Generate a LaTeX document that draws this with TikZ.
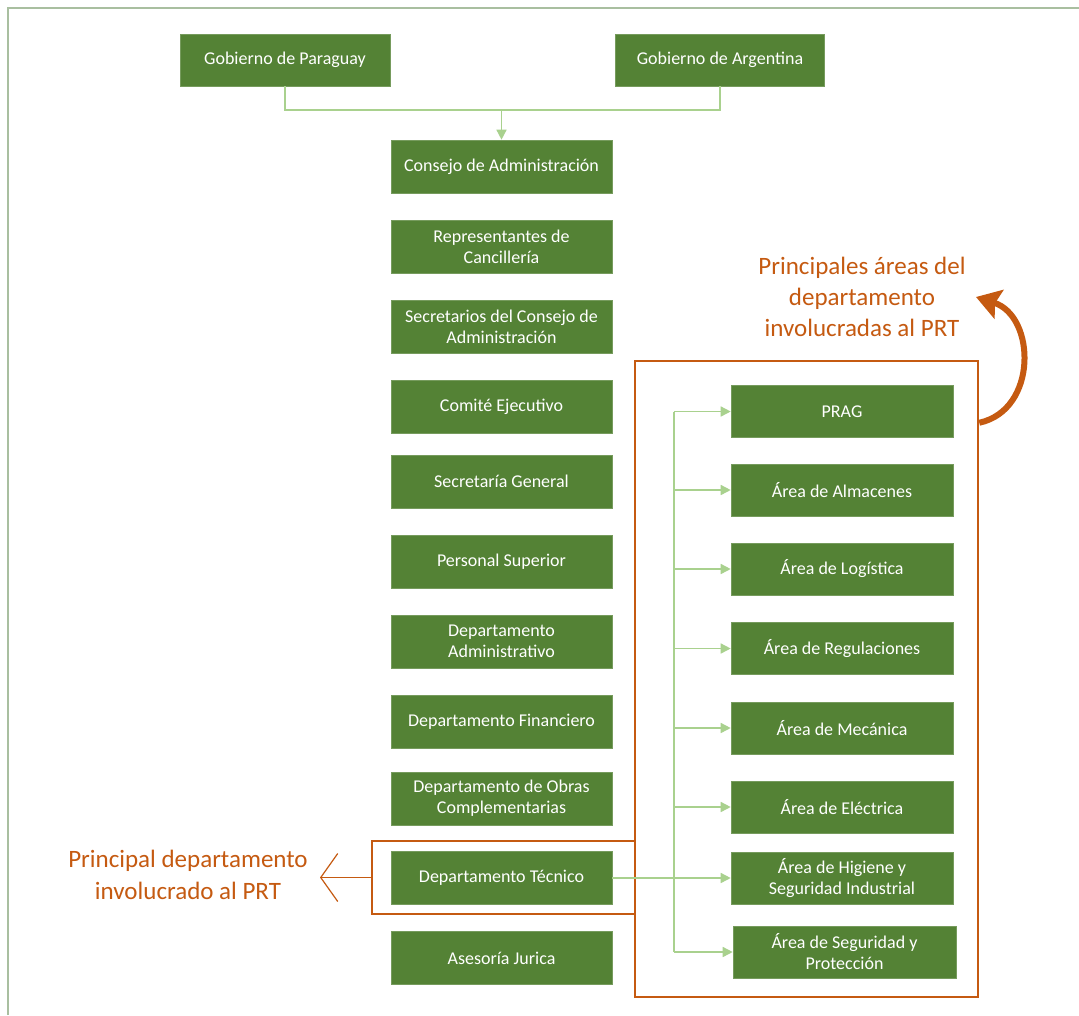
\documentclass[tikz,border=0pt]{standalone}
\usepackage{fontspec}
\setmainfont{Carlito}
\usetikzlibrary{arrows.meta}
\definecolor{boxgreen}{HTML}{548235}
\definecolor{lgreen}{HTML}{A9D18E}
\definecolor{frameg}{HTML}{A9BFA0}
\definecolor{orng}{HTML}{C55A11}
\tikzset{
  gbox/.style={fill=boxgreen, draw=boxgreen!80!white, line width=0.6pt, text=white, align=center,
    minimum width=221pt, minimum height=53pt, inner sep=2pt, font=\fontsize{18}{21}\selectfont},
  rgbox/.style={gbox, minimum width=222pt, minimum height=52pt},
  gline/.style={draw=lgreen, line width=1.5pt},
  conn/.style={gline, -{Triangle[length=10pt,width=10pt]}},
  obox/.style={draw=orng, line width=2.5pt, inner sep=0pt},
  otext/.style={text=orng, align=center, font=\fontsize{25}{31}\selectfont},
}
\begin{document}
\begin{tikzpicture}[x=1pt,y=-1pt]
\useasboundingbox (0,0) rectangle (1079,1015);
\fill[white] (0,0) rectangle (1079,1015);
% frame (top and left only)
\draw[frameg, line width=2pt] (8,1015) -- (8,7.5) -- (1079,7.5);

% orange frames
\node[obox, minimum width=343pt, minimum height=636pt] (rbox) at (806.5,679) {};
\node[obox, minimum width=263pt, minimum height=73pt] (brk) at (503.5,877.5) {};

% top boxes
\node[gbox, minimum width=210pt, minimum height=52pt] (par) at (285,60) {Gobierno de Paraguay};
\node[gbox, minimum width=209pt, minimum height=52pt] (arg) at (720,60) {Gobierno de Argentina};

% left column
\node[gbox] (cons) at (501.5,166.5) {Consejo de Administración};
\node[gbox] (rep)  at (501.5,246.5) {Representantes de\\Cancillería};
\node[gbox] (sec)  at (501.5,326.5) {Secretarios del Consejo de\\Administración};
\node[gbox] (com)  at (501.5,406.5) {Comité Ejecutivo};
\node[gbox] (sg)   at (501.5,481.5) {Secretaría General};
\node[gbox] (ps)   at (501.5,561.5) {Personal Superior};
\node[gbox] (da)   at (501.5,641.5) {Departamento\\Administrativo};
\node[gbox] (df)   at (501.5,721.5) {Departamento Financiero};
\node[gbox] (doc)  at (501.5,798.5) {Departamento de Obras\\Complementarias};
\node[gbox] (tec)  at (501.5,878) {Departamento Técnico};
\node[gbox] (ase)  at (501.5,958) {Asesoría Jurica};

% right column
\node[rgbox] (prag) at (842,411.5) {PRAG};
\node[rgbox] (alm)  at (842,490) {Área de Almacenes};
\node[rgbox] (log)  at (842,569) {Área de Logística};
\node[rgbox] (reg)  at (842,648.5) {Área de Regulaciones};
\node[rgbox] (mec)  at (842,728) {Área de Mecánica};
\node[rgbox] (ele)  at (842,807) {Área de Eléctrica};
\node[rgbox] (hig)  at (842,878) {Área de Higiene y\\Seguridad Industrial};
\node[rgbox, minimum width=223pt] (seg) at (844.5,952) {Área de Seguridad y\\Protección};

% top connectors
\coordinate (join) at (501.5,110);
\draw[gline] (par.south) -- (par.south |- join) -| (arg.south);
\draw[conn] (join) -- (cons.north);

% right connectors
\coordinate (tx) at (674,0);
\draw[gline] (tx |- prag.west) -- (tx |- seg.west);
\foreach \n in {prag,alm,log,reg,mec,ele,seg}{
  \draw[conn] (tx |- \n.west) -- (\n.west);
}
\draw[conn] (tec.east) -- (hig.west);

% annotations
\node[otext, font=\fontsize{25}{32}\selectfont] (ltxt) at (188,875) {Principal departamento\\involucrado al PRT};
\coordinate (ltip) at (320,877.5);
\draw[orng, line width=1.2pt, -{Straight Barb[length=17pt,width=48pt]}] (brk.west) -- (ltip);

\node[otext] (rtxt) at (862,297) {Principales áreas del\\departamento\\involucradas al PRT};
\coordinate (ctip) at (976,297);
\draw[orng, line width=6pt, -{Stealth[length=24pt,width=30pt,inset=4pt]}]
  ([yshift=-63pt]rbox.north east) .. controls (1038,410) and (1036,316) .. (ctip);
\end{tikzpicture}
\end{document}
